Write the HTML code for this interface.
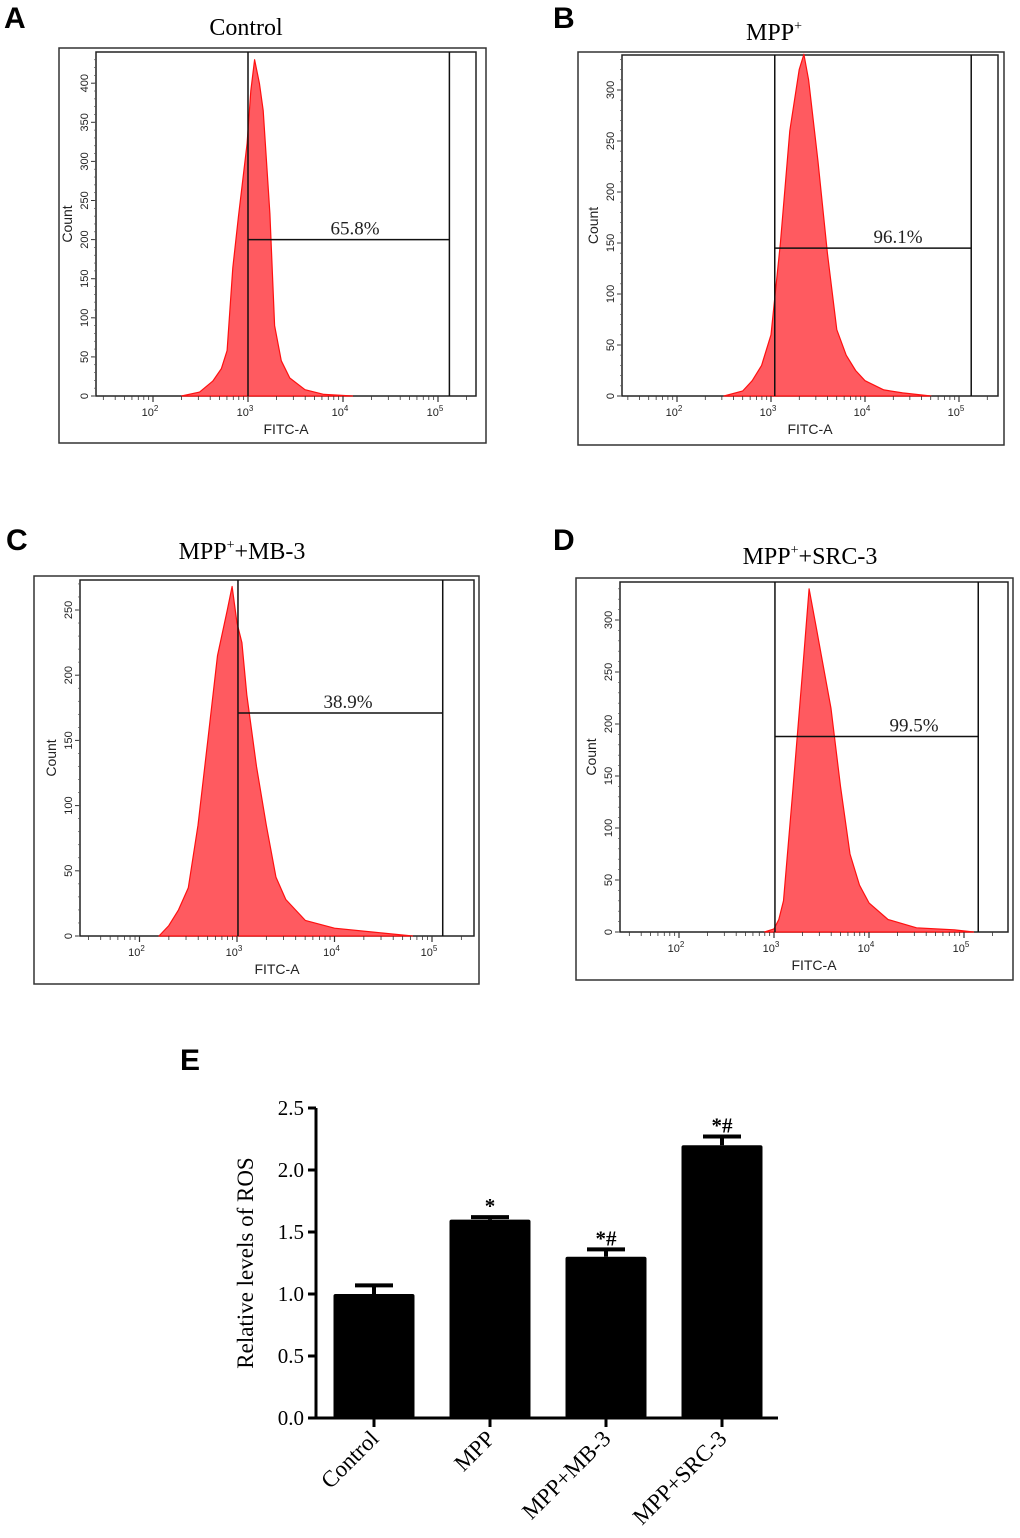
<!DOCTYPE html>
<html><head><meta charset="utf-8"><style>
body{margin:0;background:#fff}
svg{display:block}
.lt{font-family:"Liberation Sans",sans-serif;font-weight:bold;font-size:30px}
.tt{font-family:"Liberation Serif",serif;font-size:24px}
.sm{font-family:"Liberation Sans",sans-serif;font-size:11px;fill:#222}
.ax{font-family:"Liberation Sans",sans-serif;font-size:14px;fill:#222}
.pc{font-family:"Liberation Serif",serif;font-size:19px;fill:#222}
.bt{font-family:"Liberation Serif",serif;font-size:21px}
.bl{font-family:"Liberation Serif",serif;font-size:23px}
</style></head><body>
<svg id="fig" width="1020" height="1538" viewBox="0 0 1020 1538" xmlns="http://www.w3.org/2000/svg">
<text class="lt" x="4" y="28">A</text>
<text class="tt" x="246" y="35" text-anchor="middle">Control</text>
<text class="lt" x="553" y="28">B</text>
<text class="tt" x="774" y="40" text-anchor="middle">MPP<tspan font-size="14" dy="-10">+</tspan></text>
<text class="lt" x="6" y="550">C</text>
<text class="tt" x="242" y="559" text-anchor="middle">MPP<tspan font-size="14" dy="-10">+</tspan><tspan dy="10">+MB-3</tspan></text>
<text class="lt" x="553" y="550">D</text>
<text class="tt" x="810" y="564" text-anchor="middle">MPP<tspan font-size="14" dy="-10">+</tspan><tspan dy="10">+SRC-3</tspan></text>
<text class="lt" x="180" y="1070">E</text>
</svg>
<script>
// Histogram data (log10 FITC-A, count)
const logsA=[2.3,2.49,2.63,2.72,2.78,2.84,2.9,2.99,3.03,3.07,3.12,3.16,3.23,3.28,3.35,3.44,3.6,3.8,4.1];
const countsA=[0,5,19,35,58,164,230,323,390,430,400,365,233,90,45,23,8,2,0];
const logsB=[2.5,2.7,2.8,2.9,3.0,3.1,3.2,3.3,3.35,3.4,3.5,3.6,3.7,3.8,3.9,4.0,4.2,4.4,4.7];
const countsB=[0,5,15,30,60,150,260,320,335,310,230,140,65,40,25,15,6,3,0];
const logsC=[2.2,2.3,2.4,2.5,2.6,2.7,2.8,2.9,2.95,3.0,3.05,3.1,3.2,3.3,3.4,3.5,3.7,4.0,4.4,4.8];
const countsC=[0,8,20,37,85,150,215,250,268,240,225,185,130,85,45,28,12,6,3,0];
const logsD=[2.9,3.0,3.05,3.1,3.2,3.3,3.37,3.45,3.5,3.6,3.7,3.8,3.9,4.0,4.2,4.5,4.9,5.1];
const countsD=[0,3,12,30,138,250,330,290,265,215,140,75,45,28,12,4,2,0];
const yTicksA=[0,50,100,150,200,250,300,350,400];
const yTicksB=[0,50,100,150,200,250,300];
const yTicksC=[0,50,100,150,200,250];
const yTicksD=[0,50,100,150,200,250,300];
const gateA=[3.0,5.12,200], gateB=[3.04,5.13,145], gateC=[3.01,5.11,171], gateD=[3.01,5.15,188];
const pctA="65.8%", pctB="96.1%", pctC="38.9%", pctD="99.5%";
// Bar chart data
const barCats=["Control","MPP","MPP+MB-3","MPP+SRC-3"];
const barVals=[1.0,1.6,1.3,2.2];
const barErrs=[0.07,0.02,0.06,0.07];
const barMarks=["","*","*#","*#"];
const barYTicks=["0.0","0.5","1.0","1.5","2.0","2.5"];

const NS="http://www.w3.org/2000/svg", svg=document.getElementById('fig');
function mk(tag,at,txt,parent){const e=document.createElementNS(NS,tag);for(const k in at)e.setAttribute(k,at[k]);if(txt!==undefined)e.textContent=txt;(parent||svg).appendChild(e);return e;}

function hist(id,box,inner,x3,dec,y0,per50,logs,counts,yt,gate,pct,pctX){
  const g=mk('g',{});
  
  
  const X=l=>x3+(l-3)*dec, Y=c=>y0-c*per50/50;
  const o=mk('rect',{x:box[0],y:box[1],width:box[2]-box[0],height:box[3]-box[1],fill:'none',stroke:'#333','stroke-width':1.5},undefined,g);
  
  
  const inr=mk('rect',{x:inner[0],y:inner[1],width:inner[2]-inner[0],height:inner[3]-inner[1],fill:'none',stroke:'#222','stroke-width':1.5},undefined,g);
  
  
  let d='M'+X(logs[0])+','+y0;
  logs.forEach((l,i)=>{d+=' L'+X(l).toFixed(1)+','+Y(counts[i]).toFixed(1);});
  d+=' L'+X(logs[logs.length-1])+','+y0+' Z';
  const p=mk('path',{d:d,fill:'#ff5a60',stroke:'#ff1010','stroke-width':1.2,'stroke-linejoin':'round'},undefined,g);
  
  
  const gx=X(gate[0]), gr=X(gate[1]), gy=Y(gate[2]);
  const gl=mk('path',{d:`M${gx},${inner[1]}V${y0}M${gr},${inner[1]}V${y0}M${gx},${gy}H${gr}`,stroke:'#111','stroke-width':1.5,fill:'none'},undefined,g);
  
  
  const pt=mk('text',{x:pctX,y:gy-5,'text-anchor':'middle',class:'pc'},pct,g);
  
  
  yt.forEach(v=>{const y=Y(v);
    mk('line',{x1:inner[0]-5,x2:inner[0],y1:y,y2:y,stroke:'#333'},undefined,g);
    const t=mk('text',{class:'sm',transform:`translate(${inner[0]-8},${y}) rotate(-90)`,'text-anchor':'middle'},String(v),g);
    
    
  });
  for(let v=0;v<=yt[yt.length-1]+40;v+=10){const y=Y(v);if(y<inner[1])break;mk('line',{x1:inner[0]-2,x2:inner[0],y1:y,y2:y,stroke:'#555','stroke-width':0.7},undefined,g);}
  for(let n=1;n<=5;n++)for(let k=1;k<10;k++){const l=n+Math.log10(k),x=X(l);if(x<inner[0]+3||x>inner[2]-2)continue;
    mk('line',{x1:x,x2:x,y1:inner[3],y2:inner[3]+(k==1?6:4),stroke:'#333','stroke-width':k==1?1.2:0.8},undefined,g);}
  [2,3,4,5].forEach(n=>{const t=mk('text',{x:X(n)-3,y:inner[3]+20,class:'sm','text-anchor':'middle'},undefined,g);
    
    
    mk('tspan',{},'10',t);mk('tspan',{dy:-5,'font-size':8},String(n),t);});
  const xt=mk('text',{x:(inner[0]+inner[2])/2,y:inner[3]+38,class:'ax','text-anchor':'middle'},'FITC-A',g);
  
  
  const ytl=mk('text',{class:'ax',transform:`translate(${inner[0]-24},${(inner[1]+inner[3])/2}) rotate(-90)`,'text-anchor':'middle'},'Count',g);
  
  
}
hist('a',[59,48,486,443],[96,52,476,396],248,95,396,39.1,logsA,countsA,yTicksA,gateA,pctA,355);
hist('b',[578,52,1004,445],[622,55,998,396],771,94,396,51,logsB,countsB,yTicksB,gateB,pctB,898);
hist('c',[34,576,479,984],[80,580,474,936],237,97.5,936,65.2,logsC,countsC,yTicksC,gateC,pctC,348);
hist('d',[576,578,1013,980],[620,582,1008,932],774,95,932,52,logsD,countsD,yTicksD,gateD,pctD,914);

// Bar chart
const bx0=316,bx1=778,by0=1418,by25=1108;
const BY=v=>by0-(v/2.5)*(by0-by25);
const bandW=116, firstC=374, bw=81;
const BX=i=>firstC+i*bandW;
const bg=mk('g',{});


const axl=mk('path',{d:`M${bx0},${by25}V${by0}H${bx1}`,stroke:'#000','stroke-width':3,fill:'none'},undefined,bg);


barYTicks.forEach(s=>{const y=BY(parseFloat(s));
  mk('line',{x1:bx0-8,x2:bx0,y1:y,y2:y,stroke:'#000','stroke-width':3},undefined,bg);
  const t=mk('text',{x:bx0-12,y:y+7,class:'bt','text-anchor':'end'},s,bg);
  
  });
const yl=mk('text',{class:'bl',transform:`translate(253,${BY(1.25)}) rotate(-90)`,'text-anchor':'middle'},'Relative levels of ROS',bg);


barCats.forEach((c,i)=>{const cx=BX(i),top=BY(barVals[i]),et=BY(barVals[i]+barErrs[i]);
  const r=mk('rect',{x:cx-bw/2,y:top,width:bw,height:by0-top,fill:'#000',rx:2},undefined,bg);
  
  
  const e=mk('path',{d:`M${cx},${top}V${et}M${cx-19},${et}H${cx+19}`,stroke:'#000','stroke-width':4,fill:'none'},undefined,bg);
  
  
  if(barMarks[i]){const m=mk('text',{x:cx,y:et-4,class:'bt','text-anchor':'middle','font-weight':'bold'},barMarks[i],bg);
    
    }
  mk('line',{x1:cx,x2:cx,y1:by0,y2:by0+9,stroke:'#000','stroke-width':3},undefined,bg);
  const t=mk('text',{class:'bl',transform:`translate(${cx+6},${by0+22}) rotate(-45)`,'text-anchor':'end'},c,bg);
  
  
});
</script>
</body></html>
